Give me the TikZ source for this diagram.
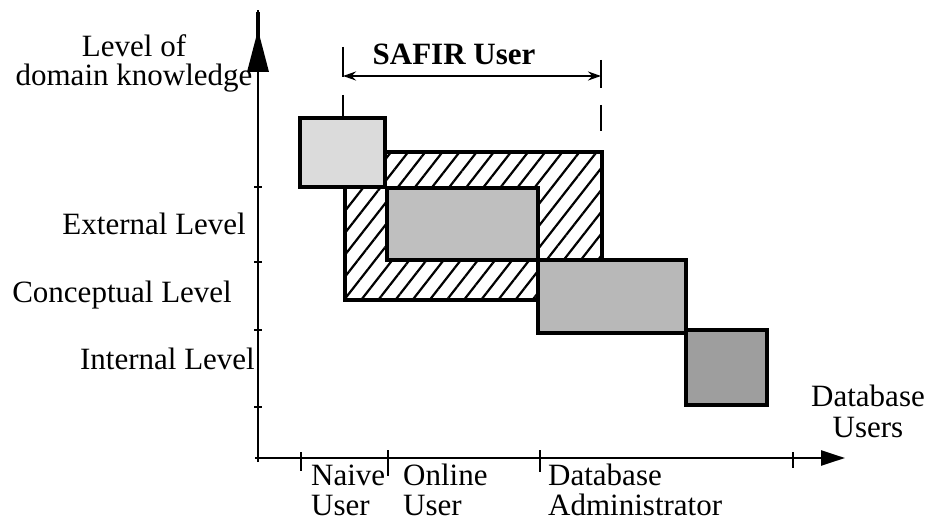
\documentclass[tikz,border=0pt]{standalone}
\usepackage{fontspec}
\setmainfont{Liberation Serif}
\usetikzlibrary{arrows.meta,patterns.meta}

\begin{document}
\begin{tikzpicture}[x=1pt,y=-1pt,
  lbl/.style={inner sep=0pt, font=\fontsize{31}{36}\selectfont},
  boldlbl/.style={inner sep=0pt, font=\fontsize{31}{36}\selectfont\bfseries},
  axisline/.style={line width=2.6pt},
  tickline/.style={line width=2.4pt},
  box/.style={line width=3.6pt, line join=miter},
  hatch/.style={pattern={Lines[angle=52, distance=13.5pt, line width=2.2pt]}},
  bracketline/.style={line width=2.4pt},
]
\useasboundingbox (0,0) rectangle (936,521);

% ---- axes ----
\coordinate (yfoot) at (258,462);
\coordinate (ytip)  at (258,10);
\coordinate (xfoot) at (255,458);
\coordinate (xtip)  at (845,458);
\draw[axisline] (yfoot) -- (ytip);
\draw[line width=3.4pt] (258,12) -- (258,40);
% arrowhead of the vertical axis: narrow triangle below a thin spike
\fill (258,30) -- (247,72) -- (269,72) -- cycle;
\draw[axisline, -{Triangle[length=24pt, width=15pt]}] (xfoot) -- (xtip);

% ticks on the vertical axis
\foreach \yy [count=\i] in {187,262,330,407} {
  \coordinate (yl\i) at (254,\yy);
  \coordinate (yr\i) at (262,\yy);
  \draw[tickline] (yl\i) -- (yr\i);
}
% ticks on the horizontal axis
\coordinate (xa1) at (301,452); \coordinate (xb1) at (301,471);
\coordinate (xa2) at (388,450); \coordinate (xb2) at (388,476);
\coordinate (xa3) at (540,450); \coordinate (xb3) at (540,472);
\coordinate (xa4) at (793,452); \coordinate (xb4) at (793,468);
\foreach \i in {1,...,4} { \draw[tickline] (xa\i) -- (xb\i); }

% ---- hatched SAFIR region ----
\draw[box, hatch] (385,152) -- (602,152) -- (602,260) -- (538,260)
  -- (538,300) -- (345,300) -- (345,187) -- (385,187) -- cycle;

% ---- user / level boxes ----
\draw[box, fill=black!25] (387,188) rectangle (538,260);   % online user, external level
\draw[box, fill=black!14] (300,118) rectangle (385,187);   % naive user
\draw[box, fill=black!28] (538,260) rectangle (686,333);   % administrator, conceptual level
\draw[box, fill=black!38] (686,330) rectangle (767,405);   % administrator, internal level

% ---- SAFIR user bracket ----
\coordinate (sl1) at (343,47);  \coordinate (sl2) at (343,77);
\coordinate (sr1) at (601,60);  \coordinate (sr2) at (601,88);
\coordinate (sa)  at (343,76);  \coordinate (sb)  at (601,76);
\draw[bracketline] (sl1) -- (sl2);
\draw[bracketline] (sr1) -- (sr2);
\draw[bracketline, {Stealth[length=13pt, width=9pt]}-{Stealth[length=13pt, width=9pt]}] (sa) -- (sb);
\coordinate (dl1) at (343,95);  \coordinate (dl2) at (343,118);
\coordinate (dr1) at (601,105); \coordinate (dr2) at (601,131);
\draw[bracketline] (dl1) -- (dl2);
\draw[bracketline] (dr1) -- (dr2);
\node[boldlbl, anchor=base] (safir) at (454,65) {SAFIR User};

% ---- axis labels ----
\node[lbl, anchor=base] (lvl1) at (134,57) {Level of};
\node[lbl, anchor=base] (lvl2) at (134,86) {domain knowledge};
\node[lbl, anchor=base east] (ext) at (246,235) {External Level};
\node[lbl, anchor=base east] (con) at (232,302) {Conceptual Level};
\node[lbl, anchor=base east] (int) at (255,369) {Internal Level};

\node[lbl, anchor=base] (dbu1) at (868,406) {Database};
\node[lbl, anchor=base] (dbu2) at (868,437) {Users};

\node[lbl, anchor=base west] (nv1) at (311,485) {Naive};
\node[lbl, anchor=base west] (nv2) at (311,515) {User};
\node[lbl, anchor=base west] (on1) at (403,485) {Online};
\node[lbl, anchor=base west] (on2) at (403,515) {User};
\node[lbl, anchor=base west] (db1) at (548,485) {Database};
\node[lbl, anchor=base west] (db2) at (548,515) {Administrator};
\end{tikzpicture}
\end{document}
